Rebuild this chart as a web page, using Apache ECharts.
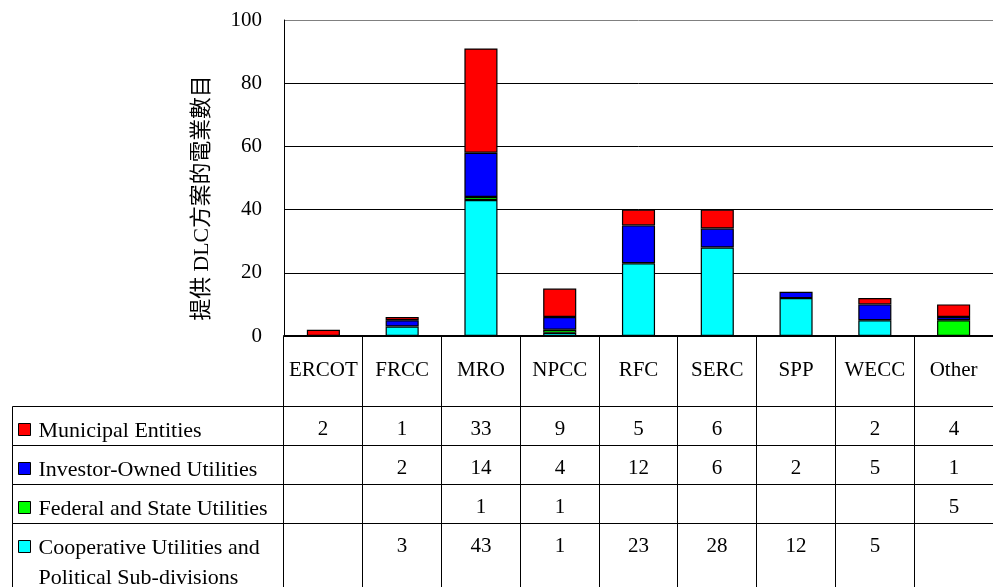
<!DOCTYPE html>
<html>
<head>
<meta charset="utf-8">
<script src="https://cdn.jsdelivr.net/npm/echarts@6/dist/echarts.min.js"></script>
<style>
  html, body { margin: 0; padding: 0; background: #fff; }
  #chart { width: 993px; height: 587px; }
</style>
</head>
<body>
<div id="chart"></div>
<script>
// regions on the x axis
const categories = ['ERCOT', 'FRCC', 'MRO', 'NPCC', 'RFC', 'SERC', 'SPP', 'WECC', 'Other'];
// utility counts per region (null = empty cell)
const municipal = [2, 1, 33, 9, 5, 6, null, 2, 4];
const investorOwned = [null, 2, 14, 4, 12, 6, 2, 5, 1];
const federalState = [null, null, 1, 1, null, null, null, null, 5];
const cooperative = [null, 3, 43, 1, 23, 28, 12, 5, null];
const seriesNames = [
  'Municipal Entities',
  'Investor-Owned Utilities',
  'Federal and State Utilities',
  'Cooperative Utilities and\nPolitical Sub-divisions'
];
const yAxisTitle = '提供 DLC方案的電業數目';

const colors = ['#ff0000', '#0000ff', '#00ff00', '#00ffff'];
const tableRows = [municipal, investorOwned, federalState, cooperative];

// table layout (in table axis units)
const PLOT_W = 715;                   // plot width, px (runs past the right edge)
const LEGEND_PX = 273;                // legend column width, px
const LEGEND_W = LEGEND_PX / (PLOT_W / categories.length);
const ROW_EDGES = [0, 1.8, 2.8, 3.8, 4.8, 7];
const SERIF = "'Liberation Serif', 'Times New Roman', serif";

// cells of the data table under the plot
const tableCells = [];
categories.forEach((c, i) => tableCells.push({ value: [i, 0], text: '' }));
tableRows.forEach((vals, r) => {
  tableCells.push({ value: [-1, r + 1], text: seriesNames[r], color: colors[r], legend: true });
  vals.forEach((v, i) => tableCells.push({ value: [i, r + 1], text: v == null ? '' : String(v) }));
});

const px = v => Math.round(v) + 0.5;

function renderCell(params, api) {
  const cell = tableCells[params.dataIndex];
  const col = api.value(0), row = api.value(1);
  const x0 = col < 0 ? -LEGEND_W : col;
  const x1 = col < 0 ? 0 : col + 1;
  const p0 = api.coord([x0, ROW_EDGES[row]]);
  const p1 = api.coord([x1, ROW_EDGES[row + 1]]);
  const left = px(p0[0]), right = px(p1[0]), top = px(p0[1]), bottom = px(p1[1]);
  const children = [{
    type: 'rect',
    shape: { x: left, y: top, width: right - left, height: bottom - top },
    style: { fill: 'none', stroke: '#000', lineWidth: 1 }
  }];
  if (cell.legend) {
    children.push({
      type: 'rect',
      shape: { x: left + 6, y: top + 17, width: 12, height: 12 },
      style: { fill: cell.color, stroke: '#000', lineWidth: 1 }
    });
    children.push({
      type: 'text',
      style: {
        text: cell.text, x: left + 26, y: top + 10, align: 'left', verticalAlign: 'top',
        fontSize: 22, fontFamily: SERIF, fill: '#000', lineHeight: 30
      }
    });
  } else if (cell.text) {
    children.push({
      type: 'text',
      style: {
        text: cell.text, x: (left + right) / 2, y: top + 23, align: 'center', verticalAlign: 'middle',
        fontSize: 21, fontFamily: SERIF, fill: '#000'
      }
    });
  }
  return { type: 'group', children };
}

const chart = echarts.init(document.getElementById('chart'));

const stackOrder = [3, 2, 1, 0]; // cooperative at the bottom, municipal on top
const barSeries = stackOrder.map(r => ({
  name: seriesNames[r],
  type: 'bar',
  stack: 'total',
  barWidth: '42%',
  xAxisIndex: 0,
  yAxisIndex: 0,
  itemStyle: { color: colors[r], borderColor: '#000', borderWidth: 1.2 },
  data: tableRows[r]
}));

chart.setOption({
  animation: false,
  backgroundColor: '#fff',
  grid: [
    { left: 284, top: 20, width: PLOT_W, bottom: 251 },
    { left: 285 - LEGEND_PX, top: 336, width: PLOT_W + LEGEND_PX, bottom: 0 }
  ],
  xAxis: [
    {
      type: 'category',
      gridIndex: 0,
      data: categories,
      axisLine: { lineStyle: { color: '#000', width: 2 } },
      axisTick: { show: false },
      axisLabel: { interval: 0, margin: 24, fontSize: 21, fontFamily: SERIF, color: '#000' }
    },
    { type: 'value', gridIndex: 1, min: -LEGEND_W, max: categories.length, show: false }
  ],
  yAxis: [
    {
      type: 'value',
      gridIndex: 0,
      min: 0,
      max: 100,
      interval: 20,
      name: yAxisTitle,
      nameLocation: 'middle',
      nameRotate: 90,
      nameGap: 71,
      nameTextStyle: {
        fontSize: 21.8, color: '#000', padding: [0, 40, 0, 0],
        fontFamily: "'Liberation Serif', 'Noto Sans CJK TC', serif"
      },
      axisLine: { show: true, lineStyle: { color: '#000', width: 1 } },
      axisTick: { show: false },
      axisLabel: { margin: 22, fontSize: 21, fontFamily: SERIF, color: '#000' },
      splitLine: { lineStyle: { color: ['#000', '#000', '#000', '#000', '#000', '#808080'], width: 1 } }
    },
    { type: 'value', gridIndex: 1, min: 0, max: 251 / 39, inverse: true, show: false }
  ],
  series: barSeries.concat([{
    type: 'custom',
    xAxisIndex: 1,
    yAxisIndex: 1,
    silent: true,
    renderItem: renderCell,
    data: tableCells.map(c => c.value)
  }])
});
</script>
</body>
</html>
